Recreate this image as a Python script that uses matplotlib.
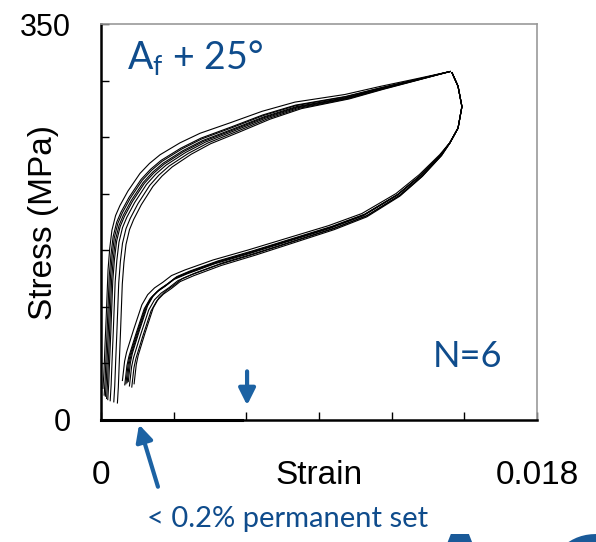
import matplotlib.pyplot as plt
import numpy as np

# superelastic loading / unloading loop (strain, MPa)
load_strain = [0.00008, 0.00010, 0.00012, 0.00016, 0.00021, 0.00025, 0.00029, 0.00036,
               0.00045, 0.00060, 0.00078, 0.00111, 0.00161, 0.00200, 0.00244, 0.00326,
               0.00409, 0.00533, 0.00665, 0.00801, 0.01007, 0.01152, 0.01288, 0.01441]
load_stress = [19, 26, 33, 55, 80, 102, 124, 143,
               159, 172, 181, 194, 210, 219, 227, 238,
               247, 257, 268, 277, 285, 293, 300, 308]

unload_strain = [0.01449, 0.01474, 0.01490, 0.01474, 0.01440, 0.01400, 0.01317, 0.01222,
                 0.01082, 0.00945, 0.00780, 0.00615, 0.00471, 0.00355, 0.00300, 0.00264,
                 0.00230, 0.00202, 0.00178, 0.00161, 0.00144, 0.00128, 0.00115, 0.00107,
                 0.00098]
unload_stress = [307, 295, 277, 258, 245, 234, 216, 199,
                 181, 170, 159, 148, 139, 130, 125, 119,
                 114, 108, 99, 88, 77, 66, 57, 49,
                 32]

# per-cycle shifts of the 8 traced curves
load_dx = [0.0000, 0.00005, 0.0001, 0.00015, 0.0002, 0.0003, 0.00045, 0.0006]
load_dy = [9, 3, 2, 0, -1, -2, -3, -4]
unload_dx = [0.0003, 0.00015, 0.0001, 0.00005, 0.0, -0.0001, 0.0002, 0.0004]
unload_dy = [-3, 2, 1, 0, -1, 3, -2, 0]

x_ticks = [0, 0.003, 0.006, 0.009, 0.012, 0.015, 0.018]
x_labels = ['0', '', '', 'Strain', '', '', '0.018']
y_ticks = [0, 50, 100, 150, 200, 250, 300, 350]
y_labels = ['0', '', '', '', '', '', '', '350']

text_blue = '#0f4c8c'
arrow_blue = '#1c62a3'

plt.rcParams['font.family'] = 'Liberation Sans'
plt.rcParams['mathtext.fontset'] = 'custom'
plt.rcParams['mathtext.rm'] = 'Lato'
plt.rcParams['mathtext.it'] = 'Lato'

fig = plt.figure(figsize=(5.96, 5.42), dpi=100)
ax = fig.add_axes([0.1695, 0.2251, 0.7315, 0.7306])

ls = np.array(load_strain)
us = np.array(unload_strain)
peak = ls[-1]
for i in range(len(load_dx)):
    w = np.clip((peak - ls) / peak, 0, 1)
    ax.plot(ls + load_dx[i] * w, np.array(load_stress) + load_dy[i] * w,
            color='black', lw=0.8)
    w2 = np.clip((peak - us) / peak, 0, 1) ** 0.5
    ax.plot(us + unload_dx[i] * w2, np.array(unload_stress) + unload_dy[i] * w2,
            color='black', lw=0.8)

# permanent set segment along zero stress
ax.plot([0, 0.0058], [0, 0], color='black', lw=2.2, clip_on=False)

ax.set_xlim(0, 0.018)
ax.set_ylim(0, 350)
ax.set_xticks(x_ticks)
ax.set_xticklabels(x_labels)
ax.set_yticks(y_ticks)
ax.set_yticklabels(y_labels)
ax.tick_params(direction='in', length=6, width=1, color='black')
ax.tick_params(axis='x', pad=29, labelsize=24)
ax.tick_params(axis='y', pad=22, labelsize=22)

for side in ['left', 'bottom']:
    ax.spines[side].set_linewidth(1.8)
for side in ['top', 'right']:
    ax.spines[side].set_color('#999999')
    ax.spines[side].set_linewidth(1.2)

ax.set_ylabel('Stress (MPa)', fontsize=24)
ax.yaxis.set_label_coords(-0.097, 0.5)

ax.text(0.06, 0.915, r'$\mathregular{A_f}$ + 25°', transform=ax.transAxes,
        fontsize=27, family='Lato', color=text_blue, va='center', ha='left')
ax.text(0.76, 0.16, 'N=6', transform=ax.transAxes,
        fontsize=26, family='Lato', color=text_blue, va='center', ha='left')

ax.annotate('', xy=(0.00603, 13), xytext=(0.00603, 43),
            arrowprops=dict(arrowstyle='-|>,head_width=0.5,head_length=1.0',
                            color=arrow_blue, lw=3, shrinkA=0, shrinkB=0))
ax.annotate('', xy=(0.00157, -4), xytext=(0.00235, -59), annotation_clip=False,
            arrowprops=dict(arrowstyle='-|>,head_width=0.5,head_length=1.0',
                            color=arrow_blue, lw=3, shrinkA=0, shrinkB=0))

fig.text(288 / 596, 1 - 519 / 542, '< 0.2% permanent set', fontsize=21,
         family='Lato', color=text_blue, ha='center', va='center')
# large logo letters cut off by the bottom edge
fig.text(460 / 596, -0.162, 'A', fontsize=95, family='Lato', weight='bold',
         color='#1a5a99', ha='center', va='baseline')
fig.text(543 / 596, -0.165, 'O', fontsize=95, family='Lato', weight='bold',
         color='#1a5a99', ha='left', va='baseline')

fig.savefig('out.png', dpi=100)
